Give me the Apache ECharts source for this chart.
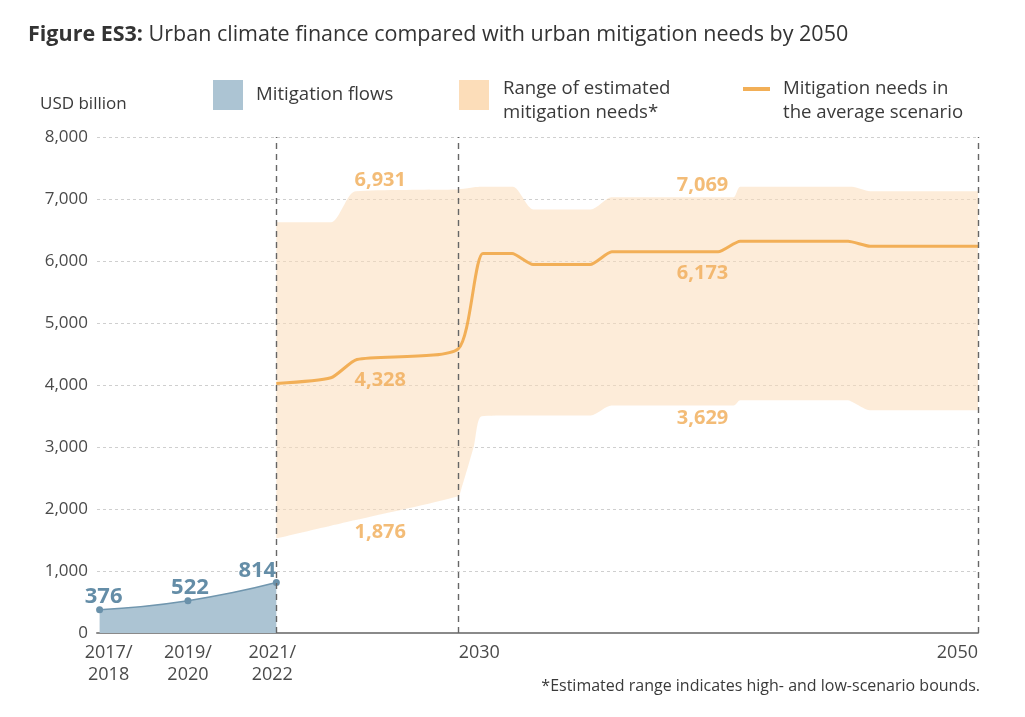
<!DOCTYPE html>
<html><head><meta charset="utf-8">
<script src="https://cdn.jsdelivr.net/npm/echarts@6/dist/echarts.min.js"></script>
<style>html,body{margin:0;padding:0;background:#fff}#c{width:1025px;height:717px}</style>
</head><body><div id="c"></div>
<script>
const FONT = "'Open Sans', sans-serif";

// Timeline positions (2030–2050 linear in years; the earlier reporting periods are drawn compressed as in the figure)
const tickX = [2016.2, 2019.6, 2023.0, 2030, 2050];
const tickLabels = ['2017/\n2018', '2019/\n2020', '2021/\n2022', '2030', '2050'];
const dividerX = [2023.0, 2030, 2050];

// Mitigation flows (USD billion)
const flowX = [2016.2, 2019.6, 2023.0];
const flowValues = [376, 522, 814];

// Range of estimated mitigation needs (high / low scenario bounds)
const bandX    = [2023.0, 2025.1, 2026.05, 2030, 2030.1, 2030.6, 2030.9, 2032.1, 2032.9, 2035.1, 2035.9, 2040.0, 2040.6, 2040.85, 2045.0, 2045.15, 2045.85, 2050];
const bandHigh = [6626, 6626, 7126, 7153, 7160, 7190, 7197, 7197, 6831, 6831, 7029, 7029, 7029, 7197, 7197, 7197, 7126, 7126];
const bandLow  = [1524, 1729, 1821, 2206, 2300, 3013, 3497, 3510, 3510, 3510, 3669, 3669, 3669, 3755, 3755, 3730, 3594, 3594];

// Mitigation needs in the average scenario
const avgX      = [2023.0, 2025.1, 2026.1, 2030, 2030.95, 2032.07, 2032.88, 2035.08, 2035.91, 2040.0, 2040.85, 2045.0, 2045.85, 2050];
const avgValues = [4024, 4116, 4411, 4584, 6121, 6121, 5944, 5944, 6148, 6148, 6319, 6319, 6239, 6239];

// Period averages shown as labels
const periodX      = [2027.0, 2027.0, 2027.0, 2039.4, 2039.4, 2039.4];
const periodValues = [6931, 4328, 1876, 7069, 6173, 3629];
const periodLabelDy = [-23, 16, 16, -9, 23, 10];

const C_BLUE_AREA = '#ACC4D3', C_BLUE = '#6A91AA', C_ORANGE = '#F2AF57', C_PEACH = '#FCDDB9';
const fmt = v => Number(v).toLocaleString('en-US');
const tickRich = {fontFamily: FONT, fontSize: 18, lineHeight: 22, color: '#4a4a4a'};
const flowLabelShift = [[4, 3], [2, 3], [-19, 4]];

const chart = echarts.init(document.getElementById('c'), null, {renderer: 'canvas'});
chart.setOption({
  animation: false,
  backgroundColor: '#fff',
  textStyle: {fontFamily: FONT},
  title: {
    text: '{b|Figure ES3:} Urban climate finance compared with urban mitigation needs by 2050',
    left: 28, top: 24, padding: 0,
    textStyle: {fontFamily: FONT, fontSize: 21.5, fontWeight: 'normal', color: '#333',
      rich: {b: {fontFamily: FONT, fontSize: 21.5, fontWeight: 'bold', color: '#333'}}}
  },
  grid: {left: 97, right: 47, top: 137, bottom: 84, containLabel: false},
  xAxis: {
    type: 'value', min: 2016.1, max: 2050,
    axisLine: {show: true, lineStyle: {color: '#8a8a8a', width: 2}},
    axisTick: {show: false},
    splitLine: {show: false},
    axisLabel: {
      customValues: tickX,
      formatter: v => {
        const i = tickX.indexOf(v);
        if (i < 0) return '';
        const style = ['a', 'n', 'c', 'r', 'n'][i];
        return tickLabels[i].split('\n').map(s => '{' + style + '|' + s + '}').join('\n');
      },
      rich: {
        a: Object.assign({padding: [0, 0, 0, 18]}, tickRich),
        n: Object.assign({}, tickRich),
        c: Object.assign({padding: [0, 8, 0, 0]}, tickRich),
        r: Object.assign({padding: [0, 0, 0, 42]}, tickRich)
      },
      alignMaxLabel: 'right',
      fontFamily: FONT, fontSize: 18, lineHeight: 22, color: '#4a4a4a', margin: 9
    }
  },
  yAxis: {
    type: 'value', min: 0, max: 8000, interval: 1000,
    axisLine: {show: false}, axisTick: {show: false},
    axisLabel: {formatter: fmt, fontFamily: FONT, fontSize: 17, color: '#4a4a4a', margin: 9},
    splitLine: {show: true, lineStyle: {color: '#cfcfcf', type: [3, 3], width: 1}}
  },
  series: [
    {
      name: 'low', type: 'line', stack: 'band', smooth: 0.25, symbol: 'none', silent: true,
      encode: {x: 1, y: 0},
      data: bandLow.map((v, i) => [v, bandX[i]]),
      lineStyle: {opacity: 0}, z: 1
    },
    {
      name: 'Range of estimated mitigation needs*', type: 'line', stack: 'band', smooth: 0.25, symbol: 'none', silent: true,
      encode: {x: 1, y: 0},
      data: bandHigh.map((v, i) => [v - bandLow[i], bandX[i]]),
      lineStyle: {opacity: 0},
      areaStyle: {color: C_PEACH, opacity: 0.55}, z: 1
    },
    {
      name: 'Mitigation needs in the average scenario', type: 'line', smooth: 0.2, symbol: 'none', silent: true,
      data: avgX.map((x, i) => [x, avgValues[i]]),
      lineStyle: {color: C_ORANGE, width: 3}, z: 3,
      markLine: {
        silent: true, symbol: ['none', 'none'], label: {show: false},
        lineStyle: {color: '#666', type: [6, 5], width: 1.4},
        data: dividerX.map(x => ({xAxis: x}))
      }
    },
    {
      name: 'Mitigation flows', type: 'line', smooth: 0.5, symbol: 'circle', symbolSize: 7,
      data: flowX.map((x, i) => [x, flowValues[i]]),
      lineStyle: {color: '#7096AE', width: 1.5},
      itemStyle: {color: C_BLUE},
      areaStyle: {color: C_BLUE_AREA, opacity: 1},
      label: {
        show: true, position: 'top', distance: 1,
        formatter: p => fmt(p.value[1]),
        fontFamily: FONT, fontSize: 22, fontWeight: 'bold', color: '#648DA7'
      },
      labelLayout: p => ({dx: flowLabelShift[p.dataIndex][0], dy: flowLabelShift[p.dataIndex][1]}),
      z: 4
    },
    {
      name: 'period averages', type: 'scatter', symbolSize: 1, silent: true,
      itemStyle: {color: 'rgba(0,0,0,0)'},
      data: periodX.map((x, i) => ({
        value: [x, periodValues[i]],
        label: {offset: [0, periodLabelDy[i]]}
      })),
      label: {
        show: true, position: 'inside',
        formatter: p => fmt(p.value[1]),
        fontFamily: FONT, fontSize: 20, fontWeight: 'bold', color: '#F0AB55'
      },
      z: 5
    }
  ],
  graphic: [
    {type: 'text', left: 40, top: 96, style: {text: 'USD billion', fontFamily: FONT, fontSize: 17, fill: '#3a3a3a'}},
    {type: 'rect', shape: {x: 213, y: 80, width: 30, height: 30}, style: {fill: C_BLUE_AREA}},
    {type: 'text', x: 256, y: 95, style: {text: 'Mitigation flows', fontFamily: FONT, fontSize: 18.6, fill: '#3a3a3a', verticalAlign: 'middle'}},
    {type: 'rect', shape: {x: 459, y: 80, width: 30, height: 30}, style: {fill: C_PEACH}},
    {type: 'text', x: 503, y: 101, style: {text: 'Range of estimated\nmitigation needs*', fontFamily: FONT, fontSize: 18.6, lineHeight: 24, fill: '#3a3a3a', verticalAlign: 'middle'}},
    {type: 'line', shape: {x1: 743, y1: 89, x2: 770, y2: 89}, style: {stroke: C_ORANGE, lineWidth: 4}},
    {type: 'text', x: 783, y: 101, style: {text: 'Mitigation needs in\nthe average scenario', fontFamily: FONT, fontSize: 18.6, lineHeight: 24, fill: '#3a3a3a', verticalAlign: 'middle'}},
    {type: 'text', x: 980, y: 686, style: {text: '*Estimated range indicates high- and low-scenario bounds.', fontFamily: FONT, fontSize: 16, fill: '#3a3a3a', align: 'right', verticalAlign: 'middle'}}
  ]
});
</script></body></html>
